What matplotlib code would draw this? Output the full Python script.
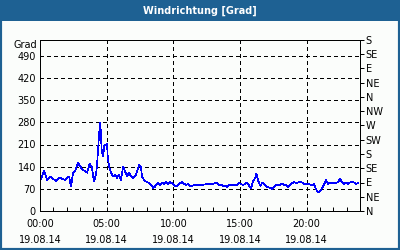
import numpy as np
import matplotlib
matplotlib.use('Agg')
import matplotlib.pyplot as plt
from matplotlib.patches import Rectangle

# ---------------------------------------------------------------- data
hours = [0.0, 0.30, 0.53, 0.75, 0.98, 1.2, 1.43, 1.65, 1.88, 2.18, 2.33, 2.48, 2.63,
         2.85, 3.0, 3.23, 3.53, 3.73, 3.9, 4.05, 4.2, 4.28, 4.36, 4.43, 4.52, 4.63,
         4.73, 4.82, 4.95, 5.03, 5.08, 5.18, 5.33, 5.48, 5.63, 5.78, 5.93, 6.08,
         6.23, 6.38, 6.53, 6.68, 6.83, 6.98, 7.13, 7.28, 7.43, 7.58, 7.65, 7.8,
         7.95, 8.18, 8.33, 8.48, 8.63, 8.7, 8.85, 9.0, 9.15, 9.3, 9.45, 9.6, 9.75,
         9.9, 10.05, 10.2, 10.35, 10.5, 10.65, 10.8, 10.95, 11.1, 11.25, 11.4,
         11.63, 12.0, 12.38, 12.6, 12.9, 13.13, 13.28, 13.43, 13.58, 13.73, 13.88,
         14.03, 14.18, 14.33, 14.48, 14.63, 14.78, 14.93, 15.08, 15.23, 15.38,
         15.53, 15.68, 15.83, 15.98, 16.13, 16.23, 16.38, 16.53, 16.68, 16.83,
         16.98, 17.13, 17.28, 17.43, 17.58, 17.73, 17.88, 18.0, 18.15, 18.3, 18.45,
         18.6, 18.75, 18.9, 19.05, 19.2, 19.35, 19.5, 19.65, 19.8, 19.95, 20.1,
         20.25, 20.4, 20.55, 20.7, 20.85, 21.0, 21.15, 21.3, 21.45, 21.6, 21.75,
         21.9, 22.05, 22.2, 22.35, 22.5, 22.65, 22.8, 22.95, 23.1, 23.25, 23.4,
         23.55, 23.7, 23.85]
grad = [93, 127, 98, 109, 102, 95, 106, 102, 98, 109, 77, 121, 125,
        153, 141, 130, 121, 150, 137, 93, 115, 146, 200, 242, 280, 189,
        173, 205, 210, 213, 169, 141, 121, 109, 115, 105, 115, 98,
        141, 125, 109, 121, 109, 105, 109, 125, 146, 137, 109, 98,
        93, 89, 83, 73, 77, 83, 88, 83, 90, 85, 91, 86, 91,
        88, 83, 77, 83, 88, 91, 86, 83, 85, 80, 80,
        82, 82, 84, 86, 84, 88, 88, 80, 84, 77, 80,
        75, 82, 80, 84, 80, 83, 88, 85, 82, 86,
        90, 80, 72, 93, 104, 118, 93, 80, 90, 84,
        77, 75, 73, 69, 77, 84, 80, 83, 86, 82, 84,
        75, 82, 88, 91, 89, 90, 92, 90, 86, 84, 85,
        84, 80, 86, 69, 58, 63, 72, 83, 98, 86, 90,
        88, 90, 88, 92, 101, 92, 86, 90, 84, 90, 92,
        90, 86, 88]

x_ticks = [0, 5, 10, 15, 20]
x_labels = ['00:00\n19.08.14', '05:00\n19.08.14', '10:00\n19.08.14',
            '15:00\n19.08.14', '20:00\n19.08.14']
left_ticks = [0, 70, 140, 210, 280, 350, 420, 490]
right_ticks = [0, 45, 90, 135, 180, 225, 270, 315, 360, 405, 450, 495, 540]
right_labels = ['N', 'NE', 'E', 'SE', 'S', 'SW', 'W', 'NW', 'N', 'NE', 'E', 'SE', 'S']

# ---------------------------------------------------------------- figure
blue = '#1e6193'
px = 0.72  # one pixel in points
fig = plt.figure(figsize=(4, 2.5), dpi=100, facecolor='#fbfdfb')
fig.patches.append(Rectangle((0, 1 - 21 / 250), 1, 21 / 250, transform=fig.transFigure,
                             facecolor=blue, edgecolor='none', zorder=0))
fig.patches.append(Rectangle((0, 0), 1, 1, transform=fig.transFigure, fill=False,
                             edgecolor=blue, linewidth=3, zorder=1))
fig.text(0.5, 1 - 11 / 250, 'Windrichtung [Grad]', color='white', fontsize=7,
         fontweight='bold', ha='center', va='center')

ax = fig.add_axes([40 / 400, 39 / 250, 320 / 400, 171 / 250])
ax.set_facecolor('#fbfdfb')
ax.plot(hours, grad, color='#0000ff', linewidth=0.5, antialiased=False, zorder=3)

ax.set_xlim(0, 24)
ax.set_ylim(0, 540)

ax.set_xticks(x_ticks)
ax.set_xticklabels(x_labels, fontsize=7)
ax.set_xticks(range(0, 25), minor=True)
for lbl in ax.get_xticklabels():
    lbl.set_linespacing(1.75)
ax.tick_params(axis='x', which='both', direction='in', length=3, width=px, pad=6)

ax.set_yticks(left_ticks)
ax.set_yticklabels([str(v) for v in left_ticks], fontsize=7)
ax.tick_params(axis='y', length=0, pad=3)

for v in left_ticks[1:]:
    ax.axhline(v, color='black', linewidth=px, linestyle=(0, (4, 3)), antialiased=False, zorder=1)
for v in x_ticks[1:]:
    ax.axvline(v, color='black', linewidth=px, linestyle=(0, (4, 3)), antialiased=False, zorder=1)

ax2 = ax.twinx()
ax2.set_ylim(0, 540)
ax2.set_yticks(right_ticks)
ax2.set_yticklabels(right_labels, fontsize=7)
ax2.tick_params(axis='y', direction='out', length=3, width=px, pad=1)

for a in (ax, ax2):
    for s in a.spines.values():
        s.set_linewidth(px)

ax.text(-0.01, 1.0, 'Grad', transform=ax.transAxes, fontsize=7, ha='right', va='top')

fig.savefig('out.png', dpi=100, facecolor=fig.get_facecolor())
